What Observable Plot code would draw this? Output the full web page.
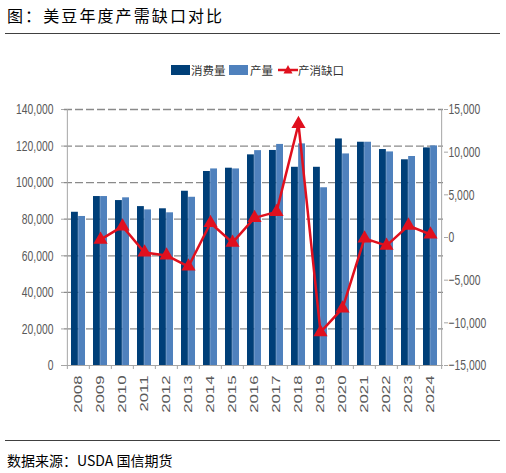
<!DOCTYPE html>
<html><head><meta charset="utf-8">
<script src="https://cdn.jsdelivr.net/npm/d3@7"></script>
<script src="https://cdn.jsdelivr.net/npm/@observablehq/plot@0.6"></script>
<style>
body{margin:0;background:#fff;}
#wrap{position:relative;width:506px;height:473px;overflow:hidden;font-family:"Noto Sans CJK SC",sans-serif;color:#000;}
.title{position:absolute;left:7px;top:3px;font-size:16px;letter-spacing:2.1px;line-height:24px;white-space:nowrap;}
.hr{position:absolute;left:5px;width:495px;height:0;border-top:1.3px solid #404040;}
.lg{position:absolute;top:62px;font-size:11.5px;line-height:16px;color:#333;white-space:nowrap;}
.sw{position:absolute;top:65px;width:19px;height:10px;}
#chart{position:absolute;left:0;top:90px;}
.source{position:absolute;left:7px;top:450px;font-size:14px;line-height:20px;white-space:nowrap;}
</style></head>
<body>
<div id="wrap">
  <div class="title">图：美豆年度产需缺口对比</div>
  <div class="hr" style="top:33px"></div>
  <div class="sw" style="left:171px;background:#003f78"></div>
  <div class="lg" style="left:191px">消费量</div>
  <div class="sw" style="left:229px;background:#4f81bd"></div>
  <div class="lg" style="left:250px">产量</div>
  <svg style="position:absolute;left:278px;top:62px" width="20" height="16"><line x1="0" y1="8" x2="20" y2="8" stroke="#e0101e" stroke-width="2.5"/><path d="M10,3 L14.5,11.5 L5.5,11.5 Z" fill="#e0101e"/></svg>
  <div class="lg" style="left:298px">产消缺口</div>
  <div id="chart"></div>
  <div class="hr" style="top:440px"></div>
  <div class="source">数据来源：USDA 国信期货</div>
</div>
<script>
const years = [2008,2009,2010,2011,2012,2013,2014,2015,2016,2017,2018,2019,2020,2021,2022,2023,2024];
const consumption = [83800,92400,90200,86900,85700,95300,106100,107900,115200,117600,108400,108400,123900,122100,118100,112500,119000];
const production  = [81500,92400,91700,85100,83500,92000,107500,107500,117500,120900,121200,97200,115700,122100,116800,114300,120100];
const gapYears = [2009,2010,2011,2012,2013,2014,2015,2016,2017,2018,2019,2020,2021,2022,2023,2024];
const gap = [-250,1300,-1750,-2100,-3400,1700,-600,2300,3000,13300,-11100,-8300,-100,-950,1400,350];
const leftTicks = [0,20000,40000,60000,80000,100000,120000,140000];
const rightTicks = [-15000,-10000,-5000,0,5000,10000,15000];

const DARK="#003f78", LIGHT="#4f81bd", RED="#e0101e";
const W=506,H=330,mL=64,mR=63,mT=19,mB=55;
const bw=(W-mL-mR)/years.length;
const leftDomain=[0,140000], rightDomain=[-15000,15000];
const toLeft=v=>leftDomain[0]+(v-rightDomain[0])/(rightDomain[1]-rightDomain[0])*(leftDomain[1]-leftDomain[0]);
const fromLeft=d=>rightDomain[0]+(d-leftDomain[0])/(leftDomain[1]-leftDomain[0])*(rightDomain[1]-rightDomain[0]);
const fmt=d3.format(",");
const table=years.map((year,i)=>({year,consumption:consumption[i],production:production[i]}));
const gapTable=gapYears.map((year,i)=>({year,gap:gap[i]}));
const numFont="'Liberation Sans',Arial,sans-serif";

const svg=Plot.plot({
  width:W,height:H,marginLeft:mL,marginRight:mR,marginTop:mT,marginBottom:mB,
  style:{background:"transparent",color:"#595959",fontFamily:numFont,overflow:"visible"},
  x:{type:"band",domain:years,padding:0,label:null},
  y:{domain:leftDomain,label:null},
  marks:[
    Plot.ruleY(leftTicks.filter(d=>d>0),{stroke:"#8a8a8a",strokeDasharray:"8,3",strokeWidth:1.3}),
    Plot.barY(table,{x:"year",y:"consumption",fill:DARK,insetLeft:4,insetRight:bw/2}),
    Plot.barY(table,{x:"year",y:"production",fill:LIGHT,insetLeft:bw/2,insetRight:4}),
    Plot.ruleY([0],{stroke:"#a6a6a6"}),
    Plot.ruleX([years[0]],{dx:-bw/2,stroke:"#a6a6a6"}),
    Plot.ruleX([years[years.length-1]],{dx:bw/2,stroke:"#a6a6a6"}),
    Plot.line(gapTable,{x:"year",y:d=>toLeft(d.gap),stroke:RED,strokeWidth:2.5}),
    Plot.dot(gapTable,{x:"year",y:d=>toLeft(d.gap),symbol:"triangle",r:4.3,fill:RED,stroke:RED}),
    Plot.axisY({ticks:leftTicks,tickSize:3,tickPadding:8,tickFormat:fmt,stroke:"#a6a6a6",fontSize:15,label:null}),
    Plot.axisY({anchor:"right",ticks:rightTicks.map(toLeft),tickSize:4,tickPadding:1,tickFormat:d=>fmt(Math.round(fromLeft(d))),stroke:"#a6a6a6",fontSize:15,label:null}),
    Plot.axisX({ticks:years,tickSize:0,tickRotate:-90,tickPadding:10,tickFormat:d=>String(d),fontSize:11.2,label:null}),
    Plot.axisX({ticks:years,tickSize:4,tickFormat:()=>"",dx:-bw/2,stroke:"#a6a6a6",label:null}),
    Plot.axisX({ticks:[years[years.length-1]],tickSize:4,tickFormat:()=>"",dx:bw/2,stroke:"#a6a6a6",label:null})
  ]
});
document.getElementById("chart").appendChild(svg);
// reproduce the original's condensed / stretched label glyphs by scaling each text around its anchor
function squeeze(sel,sx){
  d3.select(svg).selectAll(sel).each(function(){
    let t=this.getAttribute("transform");
    if(!t){
      const x=+this.getAttribute("x")||0,y=+this.getAttribute("y")||0;
      this.removeAttribute("x");this.removeAttribute("y");
      t=`translate(${x},${y})`;
    }
    this.setAttribute("transform",`${t} scale(${sx},1)`);
  });
}
squeeze('g[aria-label="y-axis tick label"] text',0.69);
squeeze('g[aria-label="x-axis tick label"] text',1.5);
</script>
</body></html>
